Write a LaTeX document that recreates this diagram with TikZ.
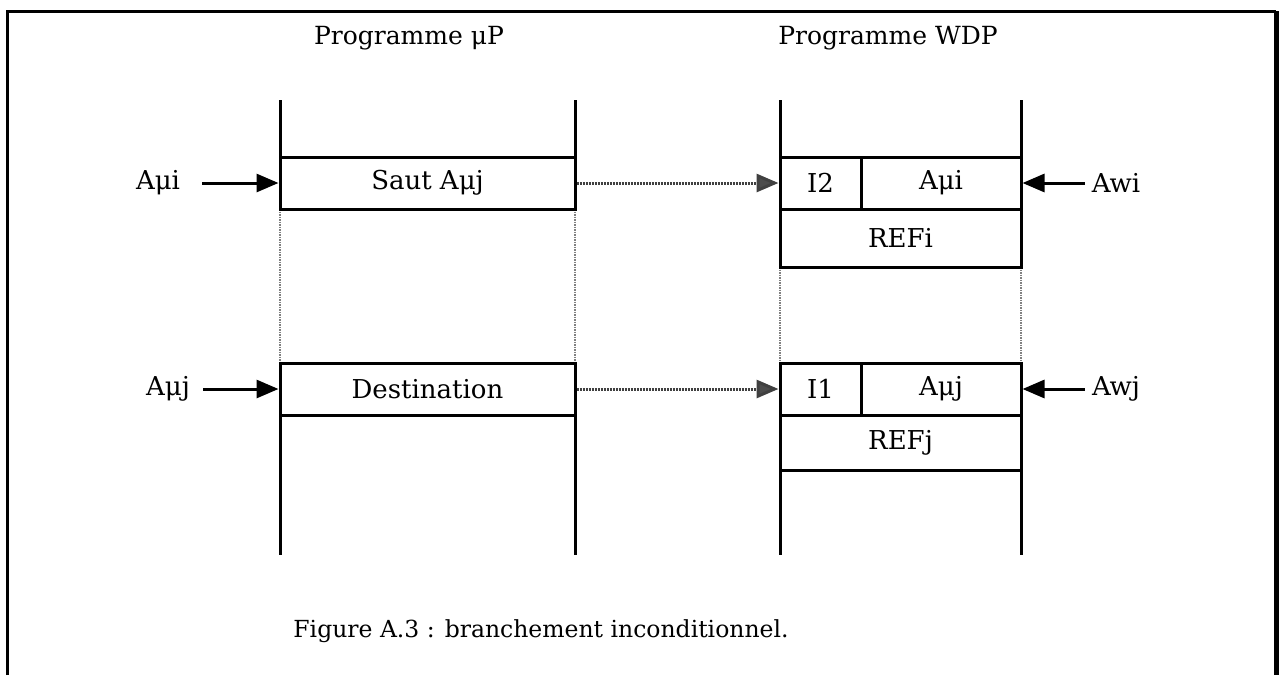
\documentclass[tikz,border=0pt]{standalone}
\usepackage{fontspec}
\setmainfont{DejaVu Serif}
\usetikzlibrary{positioning,arrows.meta}
\tikzset{
cell/.style={
draw,
line width=3pt,
inner sep=0pt,
minimum height=52pt,
font=\fontsize{26}{30}\selectfont
},
label/.style={
inner sep=0pt,
font=\fontsize{26}{30}\selectfont
},
wall/.style={
line width=3pt
},
gap/.style={
gray,
densely dotted,
line width=1.5pt
},
arrow/.style={
-{Triangle[length=22pt,width=18pt]},
line width=3pt
},
jump/.style={
-{Triangle[length=22pt,width=18pt,fill=gray!60!black]},
draw=gray!50!black,
dash pattern=on 2pt off 1pt,
line width=3pt
}
}

\begin{document}
\begin{tikzpicture}[x=1pt,y=-1pt]
\useasboundingbox (0,0) rectangle (1284,675);
% frame
\draw[line width=3pt] (7,675) -- (7,11) -- (1276,11);
\draw[line width=5pt] (1276,11) -- (1276,675);

% headers
\node[label,font=\fontsize{25}{30}\selectfont](hmu) at (409,38){Programme μP};
\node[label,font=\fontsize{25}{30}\selectfont](hwdp) at (888,38){Programme WDP};

% program columns
\draw[wall] (280,100) -- (280,209) (575,100) -- (575,209);
\draw[wall] (280,363) -- (280,555) (575,363) -- (575,555);
\draw[gap] (280,209) -- (280,363) (575,209) -- (575,363);
\draw[wall] (780,100) -- (780,267) (1021,100) -- (1021,267);
\draw[wall] (780,363) -- (780,555) (1021,363) -- (1021,555);
\draw[gap] (780,267) -- (780,363) (1021,267) -- (1021,363);

% microprocessor cells
\node[cell,minimum width=295pt](saut) at (427.5,183){Saut Aμj};
\node[cell,minimum width=295pt](dest) at (427.5,389){Destination};

% WDP cells
\node[cell,minimum width=81pt](i2) at (820.5,183){I2};
\node[cell,minimum width=160pt](ami) at (941,183){Aμi};
\node[cell,minimum width=241pt,minimum height=58pt](refi) at (900.5,238){REFi};
\node[cell,minimum width=81pt](i1) at (820.5,389){I1};
\node[cell,minimum width=160pt](amj) at (941,389){Aμj};
\node[cell,minimum width=241pt,minimum height=55pt](refj) at (900.5,442.5){REFj};

% addresses
\node[label](ai) at (158,183){Aμi};
\node[label](aj) at (168,389){Aμj};
\node[label](wi) at (1116,183){Awi};
\node[label](wj) at (1116,389){Awj};

\draw[arrow](ai.east)++(22,0) -- (saut.west);
\draw[arrow](aj.east)++(13,0) -- (dest.west);
\draw[arrow](wi.west)++(-7,0) -- (ami.east);
\draw[arrow](wj.west)++(-7,0) -- (amj.east);

\draw[jump](saut.east) -- (i2.west);
\draw[jump](dest.east) -- (i1.west);

% caption
\node[label,font=\fontsize{23.5}{28}\selectfont](cap) at (541,631){Figure A.3 : branchement inconditionnel.};
\end{tikzpicture}
\end{document}
